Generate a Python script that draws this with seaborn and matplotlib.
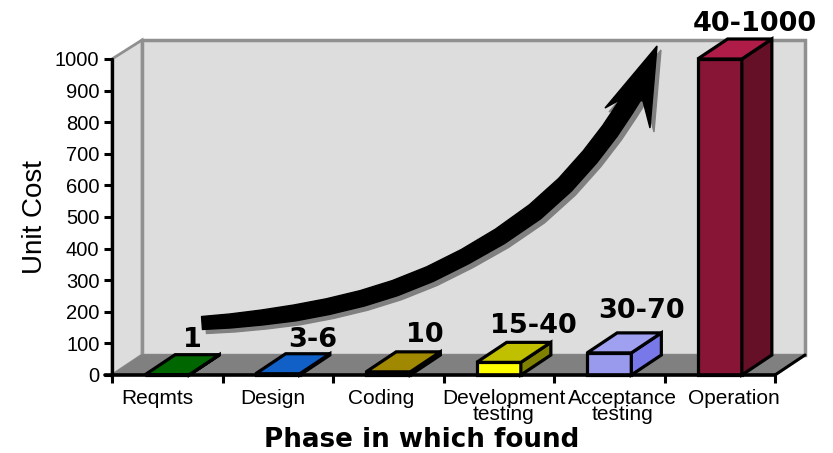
import numpy as np
import matplotlib
matplotlib.use('Agg')
import matplotlib.pyplot as plt
import matplotlib.transforms as mtrans
from matplotlib.patches import Polygon
import seaborn as sns

phases = ['Reqmts', 'Design', 'Coding', 'Development\ntesting', 'Acceptance\ntesting', 'Operation']
unit_cost = [1, 4, 10, 40, 70, 1000]
cost_labels = ['1', '3-6', '10', '15-40', '30-70', '40-1000']
front_colors = ['#006600', '#1060c8', '#008080', '#ffff00', '#9999ee', '#881535']
top_colors = ['#006600', '#1060c8', '#a08800', '#c0c000', '#a0a0f0', '#b01c48']
side_colors = ['#004400', '#0a4490', '#006060', '#808000', '#7878e8', '#661028']

# pixel offsets of the text
label_dx = [25, 35, 37, 35, 32, 35]
label_dy = [15, 14, 17, 16, 22, 15]
tick_dx = [-10, -5, -7, 5, 13, 14]

# arrow centre line and half widths, in pixels of the picture
arrow_x = [202, 230, 262, 295, 328, 362, 395, 430, 465, 500, 535, 565, 590, 610, 625, 634]
arrow_y = [323, 321, 317.5, 312.9, 306.6, 298.4, 288.1, 274.1, 256.6, 236.3, 211.8, 184.8, 156.8, 130.8, 108.3, 94]
arrow_w = [6.5, 7, 7.5, 8, 8, 8, 8, 8, 8, 8.5, 9, 9, 9, 9, 9, 9]
head_x = [657, 605, 625, 643, 650]
head_y = [46, 108, 97, 101, 128]

W, H = 833, 453
X0, X1, Y0, Y1 = 112, 775, 375, 59
DX, DY = 30, 20

fig = plt.figure(figsize=(8.33, 4.53), dpi=100)
sns.set_style('white')
plt.rcParams['font.family'] = ['Liberation Sans', 'DejaVu Sans']
ax = fig.add_axes([X0 / W, 1 - Y0 / H, (X1 - X0) / W, (Y0 - Y1) / H])
ax.patch.set_alpha(0)


def px(x, y):
    # picture pixels to data coordinates
    return (-0.5 + (np.asarray(x, float) - X0) / (X1 - X0) * 6,
            (Y0 - np.asarray(y, float)) / (Y0 - Y1) * 1000)


def add_poly(xs, ys, **kw):
    dx, dy = px(xs, ys)
    ax.add_patch(Polygon(np.column_stack([dx, dy]), closed=True, clip_on=False, **kw))


# walls and floor
add_poly([142, 805, 805, 142], [40, 40, 355, 355], fc='#dddddd', ec='#909090', lw=2.5, zorder=0)
add_poly([112, 142, 142, 112], [59, 40, 355, 375], fc='#dddddd', ec='#909090', lw=2, zorder=0)
add_poly([112, 142, 805, 775], [375, 355, 355, 375], fc='#808080', ec='#808080', lw=1, zorder=0.5)
fx, fy = px([775, 805], [375, 355])
ax.plot(fx, fy, color='black', lw=2.2, clip_on=False, zorder=1)

# arrow body from centre line
ax_x = np.array(arrow_x, float)
ax_y = np.array(arrow_y, float)
tx, ty = np.gradient(ax_x), np.gradient(ax_y)
norm = np.hypot(tx, ty)
nx, ny = -ty / norm, tx / norm
w = np.array(arrow_w)
body_x = np.r_[ax_x + nx * w, (ax_x - nx * w)[::-1]]
body_y = np.r_[ax_y + ny * w, (ax_y - ny * w)[::-1]]
for off, col, z in [(4, '#808080', 1.2), (0, 'black', 1.4)]:
    add_poly(body_x + off, body_y + off, fc=col, ec=col, lw=1, joinstyle='round', zorder=z)
    add_poly(np.array(head_x) + off, np.array(head_y) + off, fc=col, ec=col, lw=1, zorder=z)

# front faces
sns.barplot(x=phases, y=unit_cost, hue=phases, palette=front_colors, legend=False,
            width=0.4, edgecolor='black', linewidth=2.3, ax=ax, zorder=2, saturation=1)
ax.set_xlim(-0.5, 5.5)
ax.set_ylim(0, 1000)
bars = [c[0] for c in ax.containers]

# tops and sides of the boxes
depth_x = DX / (X1 - X0) * 6
depth_y = DY / (Y0 - Y1) * 1000
for bar, top, side in zip(bars, top_colors, side_colors):
    left = bar.get_x()
    right = left + bar.get_width()
    h = bar.get_height()
    side_pts = [(right, 0), (right + depth_x, depth_y), (right + depth_x, h + depth_y), (right, h)]
    top_pts = [(left, h), (left + depth_x, h + depth_y), (right + depth_x, h + depth_y), (right, h)]
    ax.add_patch(Polygon(side_pts, closed=True, fc=side, ec='black', lw=2.3, clip_on=False, zorder=2))
    ax.add_patch(Polygon(top_pts, closed=True, fc=top, ec='black', lw=2.3, clip_on=False, zorder=2))
    bar.set_clip_on(False)

# value labels
for i, (bar, txt) in enumerate(zip(bars, cost_labels)):
    ax.annotate(txt, (bar.get_x() + bar.get_width() / 2, bar.get_height() + depth_y),
                xytext=(label_dx[i] * 0.72, label_dy[i] * 0.72), textcoords='offset points',
                ha='center', va='center', fontsize=19.5, fontweight='bold',
                family='DejaVu Sans', color='black', annotation_clip=False, zorder=5)

# axes
sns.despine(ax=ax, left=True, bottom=True, top=True, right=True)
ax.set_yticks(range(0, 1001, 100))
ax.tick_params(axis='y', length=6, width=2.2, color='black', labelsize=14.5, labelcolor='black', pad=3, left=True)
ax.set_xticks(range(6), phases)
ax.set_xticks(np.arange(-0.5, 5.6, 1), minor=True)
ax.tick_params(axis='x', which='major', length=0, labelsize=15, labelcolor='black', pad=10)
ax.tick_params(axis='x', which='minor', length=6, width=2.2, color='black', bottom=True)
for lab, dx in zip(ax.get_xticklabels(), tick_dx):
    lab.set_linespacing(0.8)
    lab.set_transform(lab.get_transform() + mtrans.ScaledTranslation(dx / 100, 0, fig.dpi_scale_trans))
ax.plot([-0.5, -0.5], [0, 1000], color='black', lw=2.4, clip_on=False, zorder=3)
ax.plot([-0.56, 5.5], [0, 0], color='black', lw=2.6, clip_on=False, zorder=3)
ax.set_ylabel('')
fig.text(35 / W, 1 - 217 / H, 'Unit Cost', rotation=90, ha='center', va='center', fontsize=20, color='black')
fig.text(422 / W, 1 - 440 / H, 'Phase in which found', ha='center', va='center',
         fontsize=18.8, fontweight='bold', family='DejaVu Sans', color='black')

fig.savefig('out.png', dpi=100)
